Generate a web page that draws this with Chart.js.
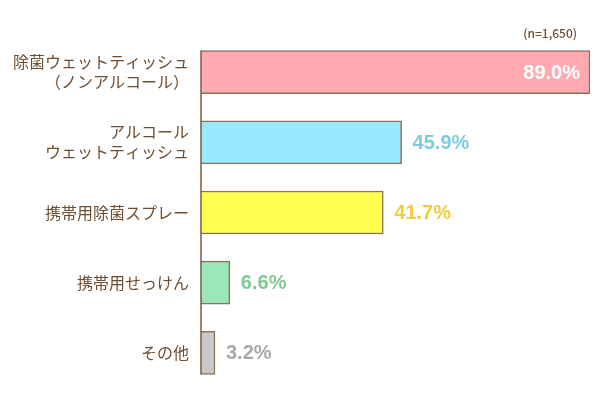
<!DOCTYPE html>
<html>
<head>
<meta charset="utf-8">
<script src="https://cdn.jsdelivr.net/npm/chart.js@4/dist/chart.umd.min.js"></script>
<style>
  html, body { margin: 0; padding: 0; background: #fff; }
  #wrap { width: 600px; height: 412px; position: relative; }
</style>
</head>
<body>
<div id="wrap"><canvas id="barChart"></canvas></div>
<script>
// data
const categories = [
    ['除菌ウェットティッシュ', '（ノンアルコール）'],
    ['アルコール', 'ウェットティッシュ'],
    '携帯用除菌スプレー',
    '携帯用せっけん',
    'その他'
];
const percentages = [89.0, 45.9, 41.7, 6.6, 3.2];
const sampleNote = '(n=1,650)';

const fillColors = ['#ffa9b1', '#98e9ff', '#ffff4f', '#9ae7b9', '#c9c9c9'];
const labelColors = ['#ffffff', '#7dcbe2', '#f3cb3b', '#7fcb8e', '#a9a9a9'];
const brown = '#6e4d30';
const jpFont = '"Noto Sans CJK JP", "Noto Sans", sans-serif';

// axis line only spans from the first bar's top to the last bar's bottom
const axisLine = {
    id: 'axisLine',
    afterDatasetsDraw(chart) {
        const ctx = chart.ctx;
        const bars = chart.getDatasetMeta(0).data;
        const first = bars[0], last = bars[bars.length - 1];
        const x = chart.chartArea.left;
        ctx.save();
        ctx.strokeStyle = '#7a5a40';
        ctx.lineWidth = 1.5;
        ctx.beginPath();
        ctx.moveTo(x, first.y - first.height / 2);
        ctx.lineTo(x, last.y + last.height / 2);
        ctx.stroke();
        ctx.restore();
    }
};

// draws the percentage next to (or inside) each bar, plus the n= note
const valueLabels = {
    id: 'valueLabels',
    afterDatasetsDraw(chart) {
        const ctx = chart.ctx;
        const meta = chart.getDatasetMeta(0);
        ctx.save();
        ctx.font = 'bold 20px "Liberation Sans", Arial, sans-serif';
        ctx.textBaseline = 'middle';
        meta.data.forEach((bar, i) => {
            const txt = percentages[i].toFixed(1) + '%';
            ctx.fillStyle = labelColors[i];
            if (i === 0) {
                ctx.textAlign = 'right';
                ctx.fillText(txt, bar.x - 10, bar.y + 1);
            } else {
                ctx.textAlign = 'left';
                ctx.fillText(txt, bar.x + 11, bar.y + 1);
            }
        });
        ctx.font = '500 12px ' + jpFont;
        ctx.fillStyle = brown;
        ctx.textAlign = 'right';
        ctx.fillText(sampleNote, 577, 33);
        ctx.restore();
    }
};

const ctx = document.getElementById('barChart').getContext('2d');
const barChart = new Chart(ctx, {
    type: 'bar',
    data: {
        labels: categories,
        datasets: [{
            data: percentages,
            backgroundColor: fillColors,
            borderColor: '#8c7058',
            borderWidth: 1.5,
            borderSkipped: 'left',
            barThickness: 43
        }]
    },
    options: {
        indexAxis: 'y',
        responsive: true,
        maintainAspectRatio: false,
        animation: false,
        layout: { padding: { left: 0, right: 10, top: 37, bottom: 18 } },
        plugins: {
            legend: { display: false },
            tooltip: { enabled: false }
        },
        scales: {
            x: {
                display: false,
                min: 0,
                max: 89
            },
            y: {
                grid: { display: false },
                border: { display: false },
                afterFit(scale) { scale.width = 201; },
                ticks: {
                    color: brown,
                    padding: 4,
                    font: { family: jpFont, size: 16, lineHeight: 1.25 }
                }
            }
        }
    },
    plugins: [axisLine, valueLabels]
});
</script>
</body>
</html>
